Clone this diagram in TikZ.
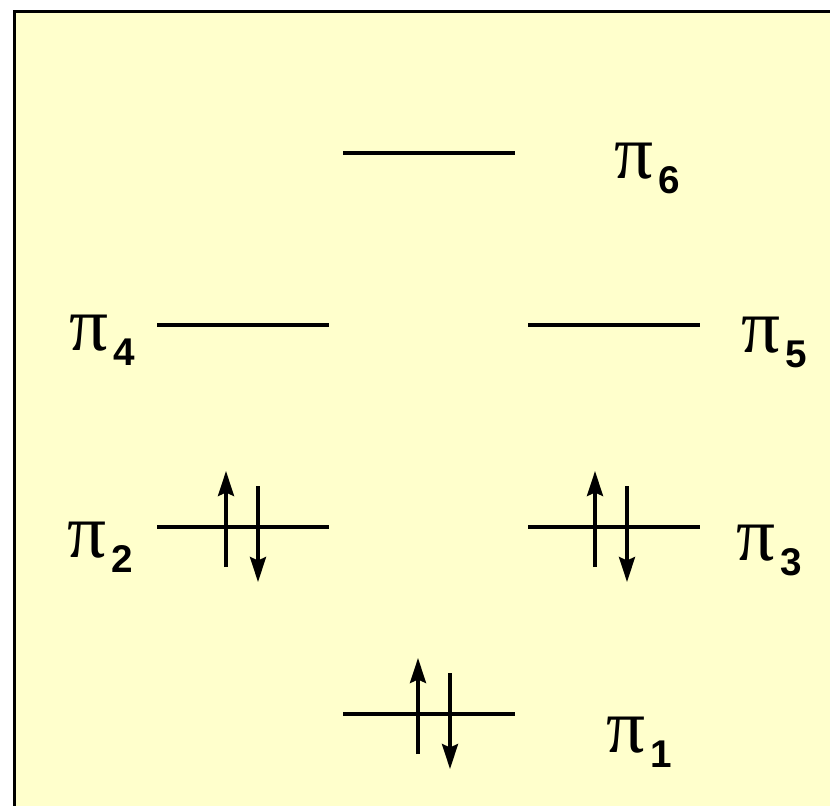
\documentclass[tikz,border=0pt]{standalone}
\usepackage{fontspec}
\setmainfont{Liberation Sans}
\newfontfamily\pifont{Liberation Serif}
\usetikzlibrary{arrows.meta}

\definecolor{boxyellow}{RGB}{255,255,204}

\newcommand{\orblabel}[1]{{\pifont\fontsize{44}{46}\selectfont π}\hspace{3pt}\raisebox{-9pt}{\bfseries\fontsize{22}{24}\selectfont #1}}

\begin{document}
\begin{tikzpicture}[x=0.02cm,y=-0.02cm,
  level/.style={line width=2pt},
  spin/.style={line width=2pt,-{Stealth[length=0.5cm,width=0.32cm,inset=0.07cm]}},
  orbital/.style={anchor=base west,inner sep=0pt}]

\useasboundingbox (0,0) rectangle (830,805);
\clip (0,0) rectangle (830,805);
\fill[white] (0,0) rectangle (830,805);

% Box
\draw[line width=1.8pt,fill=boxyellow] (14.5,11.5) rectangle (850,825);

% Levels
\foreach \x/\y in {343/153, 157/325, 528/325, 157/527, 528/527, 343/714}
{
\draw[level] (\x,\y) -- ++(172,0);
}

% Electron pairs
\foreach \x/\y in {226/527, 595/527, 418/714}
{
\draw[spin] (\x,\y+40) -- (\x,\y-56);
\draw[spin] (\x+32,\y-41) -- (\x+32,\y+55);
}

% Labels
\node[orbital] (pi6) at (614,178) {\orblabel{6}};
\node[orbital] (pi4) at (69,350) {\orblabel{4}};
\node[orbital] (pi5) at (741,352) {\orblabel{5}};
\node[orbital] (pi2) at (67,557) {\orblabel{2}};
\node[orbital] (pi3) at (736,560) {\orblabel{3}};
\node[orbital] (pi1) at (606,752) {\orblabel{1}};

\end{tikzpicture}
\end{document}
